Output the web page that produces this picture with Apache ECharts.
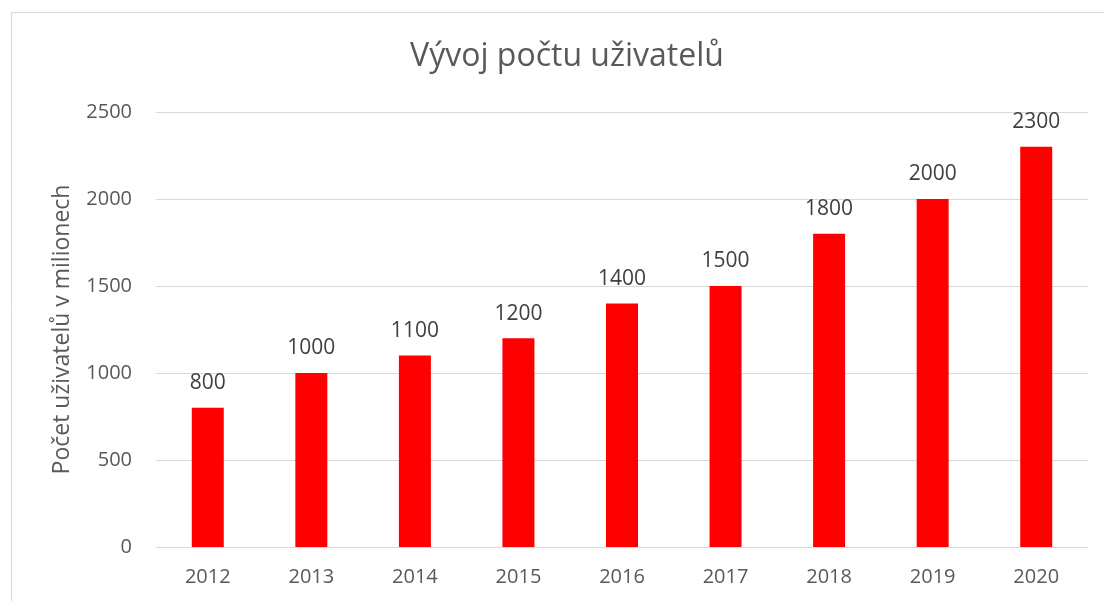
<!DOCTYPE html>
<html>
<head>
<meta charset="utf-8">
<script src="https://cdn.jsdelivr.net/npm/echarts@6/dist/echarts.min.js"></script>
<style>
  html, body { margin: 0; padding: 0; background: #fff; }
  #chart { width: 1104px; height: 601px; }
</style>
</head>
<body>
<div id="chart"></div>
<script>
const years = ["2012", "2013", "2014", "2015", "2016", "2017", "2018", "2019", "2020"];
const users = [800, 1000, 1100, 1200, 1400, 1500, 1800, 2000, 2300];
const yTicks = { min: 0, max: 2500, interval: 500 };

const font = "'Open Sans', 'Noto Sans', sans-serif";

const chart = echarts.init(document.getElementById("chart"));

const option = {
    backgroundColor: "#fff",
    animation: false,
    title: {
        text: "Vývoj počtu uživatelů",
        left: 562,
        top: 36,
        textAlign: "center",
        textStyle: { fontFamily: font, fontSize: 32, fontWeight: "normal", color: "#595959" }
    },
    graphic: [
        {
            type: "rect",
            shape: { x: 11.5, y: 12.5, width: 1200, height: 700 },
            style: { fill: "none", stroke: "#d9d9d9", lineWidth: 1 },
            silent: true
        }
    ],
    grid: { left: 156, right: 16, top: 112, bottom: 54, containLabel: false },
    xAxis: {
        type: "category",
        data: years,
        axisLine: { lineStyle: { color: "#d9d9d9", width: 1 } },
        axisTick: { show: false },
        axisLabel: { fontFamily: font, fontSize: 20, color: "#595959", margin: 20 }
    },
    yAxis: {
        type: "value",
        min: yTicks.min,
        max: yTicks.max,
        interval: yTicks.interval,
        name: "Počet uživatelů v milionech",
        nameLocation: "middle",
        nameGap: 82,
        nameTextStyle: { fontFamily: font, fontSize: 23, color: "#595959" },
        axisLine: { show: false },
        axisTick: { show: false },
        splitLine: { lineStyle: { color: "#d9d9d9", width: 1 } },
        axisLabel: {
            fontFamily: font,
            fontSize: 20,
            color: "#595959",
            margin: 24,
            formatter: v => String(v)
        }
    },
    series: [
        {
            type: "bar",
            data: users,
            barWidth: 32,
            itemStyle: { color: "#ff0000" },
            label: {
                show: true,
                position: "top",
                distance: 14,
                fontFamily: font,
                fontSize: 21,
                color: "#404040"
            }
        }
    ]
};

chart.setOption(option);
</script>
</body>
</html>
